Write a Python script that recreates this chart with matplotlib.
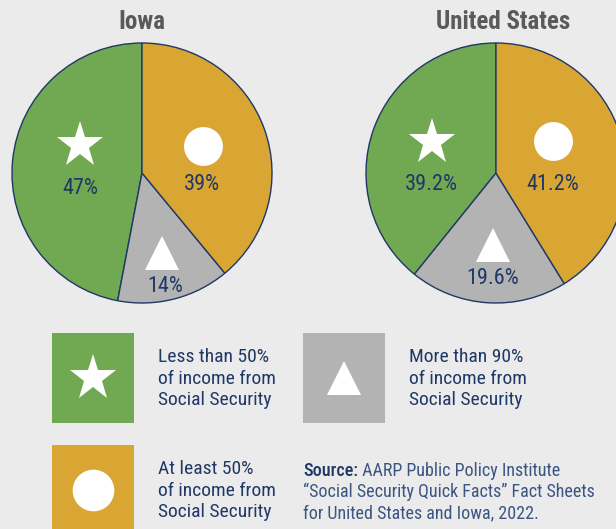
import matplotlib
matplotlib.use('Agg')
import matplotlib.pyplot as plt
from matplotlib import font_manager
from matplotlib.patches import Rectangle

# data
regions = ['Iowa', 'United States']
shares = [[47, 14, 39], [39.2, 19.6, 41.2]]
share_labels = [['47%', '14%', '39%'], ['39.2%', '19.6%', '41.2%']]
categories = ['Less than 50%\nof income from\nSocial Security',
              'More than 90%\nof income from\nSocial Security',
              'At least 50%\nof income from\nSocial Security']
cat_colors = ['#70a951', '#b3b3b3', '#d9a634']
cat_markers = ['*', '^', 'o']
source_lines = ['AARP Public Policy Institute',
                '\u201cSocial Security Quick Facts\u201d Fact Sheets',
                'for United States and Iowa, 2022.']

bg = '#ebebeb'
navy = '#1f3866'
navy_light = '#3b5583'
W, H = 616, 529

# narrow font if one is installed
names = {f.name for f in font_manager.fontManager.ttflist}
fam = 'Liberation Sans'
for cand in ['Liberation Sans Narrow', 'Roboto Condensed', 'Open Sans Condensed']:
    if cand in names:
        fam = cand
        break
narrow = fam != 'Liberation Sans'
plt.rcParams['font.family'] = [fam, 'DejaVu Sans']

fs_title = 18 if narrow else 15.5
fs_leg = 14 if narrow else 13
fs_src = 13 if narrow else 11.5
fs_pct = 16 if narrow else 14

fig = plt.figure(figsize=(W / 100, H / 100), dpi=100, facecolor=bg)
ax = fig.add_axes([0, 0, 1, 1])
ax.set_facecolor(bg)

def Y(y):
    return H - y

centers = [(142, 173), (496, 173)]
R = 130
# label/marker positions (pixels) for green, gray, gold
mark_pos = [[(80, 145), (162, 253), (203, 146)],
            [(432, 142), (493, 245), (553, 141)]]
lab_pos = [[(80, 188), (165, 286), (202, 185)],
           [(431, 185), (493, 279), (553, 184)]]
mark_size = {'*': 35, '^': 24, 'o': 28}

for i, reg in enumerate(regions):
    cx, cy = centers[i]
    ax.pie(shares[i], colors=cat_colors, startangle=90, counterclock=True,
           center=(cx, Y(cy)), radius=R, frame=True,
           wedgeprops=dict(edgecolor=navy, linewidth=1.0))
    ax.text(cx + (7 if i == 1 else 0), Y(22), reg, ha='center', va='center',
            fontsize=fs_title, fontweight='bold', color='#5a5a5c')
    for j in range(3):
        mx, my = mark_pos[i][j]
        ax.plot(mx, Y(my), marker=cat_markers[j], color='white',
                markersize=mark_size[cat_markers[j]], markeredgewidth=0)
        lx, ly = lab_pos[i][j]
        ax.text(lx, Y(ly), share_labels[i][j], ha='center', va='center',
                fontsize=fs_pct, color=navy)

# legend boxes
boxes = [(52, 333), (303, 333), (52, 445)]
for j in range(3):
    bx, by = boxes[j]
    ax.add_patch(Rectangle((bx, Y(by + 90)), 82, 90, facecolor=cat_colors[j],
                           edgecolor='none'))
    ax.plot(bx + 41, Y(by + 45), marker=cat_markers[j], color='white',
            markersize=mark_size[cat_markers[j]] + (2 if cat_markers[j] == 'o' else 0),
            markeredgewidth=0)
    tx = bx + 106
    for k, line in enumerate(categories[j].split('\n')):
        ax.text(tx, Y(by + 24 + 21.5 * k), line, ha='left', va='center',
                fontsize=fs_leg, color=navy)

# source
t1 = ax.text(303, Y(471), 'Source:', ha='left', va='center', fontsize=fs_src,
             color=navy, fontweight='medium')
ax.annotate(' ' + source_lines[0], xy=(1, 0.5), xycoords=t1, ha='left',
            va='center', fontsize=fs_src, color=navy_light)
for k, line in enumerate(source_lines[1:]):
    ax.text(303, Y(492 + 21 * k), line, ha='left', va='center',
            fontsize=fs_src, color=navy_light)

ax.set_xlim(0, W)
ax.set_ylim(0, H)
ax.set_aspect('auto')
ax.axis('off')

fig.savefig('out.png', dpi=100, facecolor=bg)
